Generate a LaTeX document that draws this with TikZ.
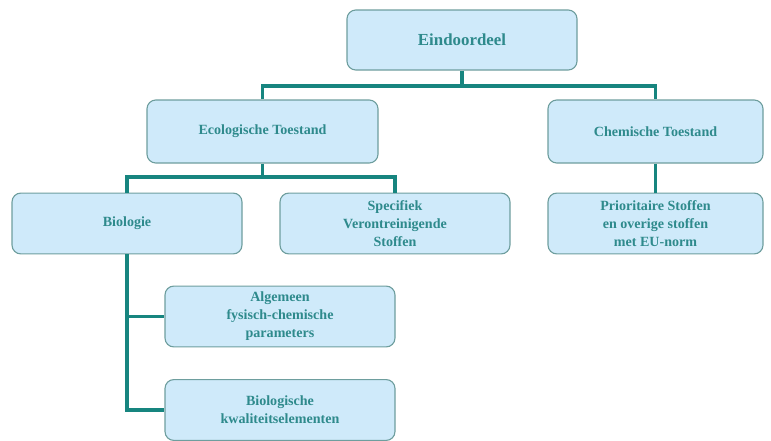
\documentclass[tikz,border=0pt]{standalone}
\usepackage{fontspec}
\setmainfont{Liberation Serif}
\definecolor{boxfill}{HTML}{CFEAFA}
\definecolor{boxline}{HTML}{6E9E9E}
\definecolor{tealtext}{HTML}{2E8A8C}
\definecolor{tealline}{HTML}{17857F}
\begin{document}
\begin{tikzpicture}[
    box/.style = {draw=boxline, line width=0.8pt, fill=boxfill, rounded corners=0.22cm,
                  align=center, text=tealtext, font=\bfseries\fontsize{10}{12.8}\selectfont,
                  minimum width=5.75cm, minimum height=1.52cm, inner sep=2pt},
    link/.style = {draw=tealline, line width=2.6pt}
]
            \useasboundingbox (0,0) rectangle (19.275,-11.025);
            % Nodes with manual coordinates
            \node[box, minimum height=1.5cm, font=\bfseries\fontsize{12}{14}\selectfont] (eind) at (11.55,-1.0) {Eindoordeel};
            \node[box, minimum width=5.775cm, minimum height=1.575cm] (eco) at (6.5625,-3.2875) {Ecologische Toestand};
            \node[box, minimum width=5.375cm, minimum height=1.575cm] (chem) at (16.3875,-3.2875) {Chemische Toestand};
            \node[box] (bio) at (3.175,-5.5875) {Biologie};
            \node[box] (spec) at (9.875,-5.5875) {Specifiek\\Verontreinigende\\Stoffen};
            \node[box, minimum width=5.375cm] (prior) at (16.3875,-5.5875) {Prioritaire Stoffen\\en overige stoffen\\met EU-norm};
            \node[box] (alg) at (7.0,-7.9125) {Algemeen\\fysisch-chemische\\parameters};
            \node[box] (bk) at (7.0,-10.25) {Biologische\\kwaliteitselementen};
            \coordinate (j1) at (11.55,-2.15);
            \coordinate (j2) at (6.5625,-4.425);

            % Edges
            \draw[link] (eind) -- (j1);
            \draw[link] (eco.north) |- (j1) -| (chem.north);
            \draw[link] (eco) -- (j2);
            \draw[link] (bio.north) |- (j2) -| (spec.north);
            \draw[link] (chem) -- (prior);
            \draw[link] (bio.south) |- (alg.west);
            \draw[link] (bio.south) |- (bk.west);
        \end{tikzpicture}
\end{document}
